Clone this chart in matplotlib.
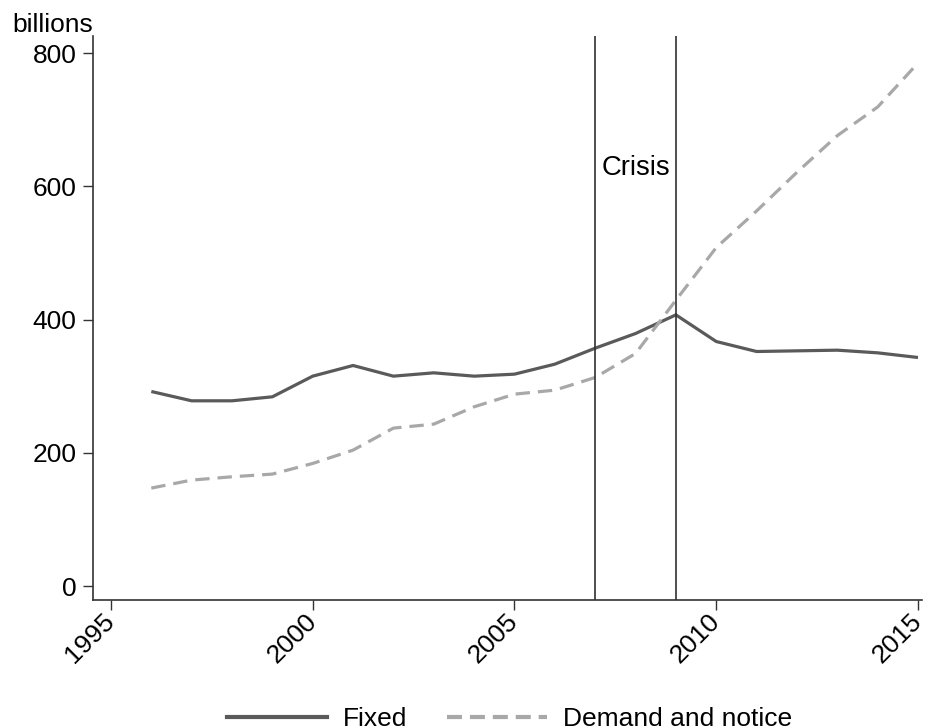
import matplotlib
matplotlib.use('Agg')
import matplotlib.pyplot as plt
from matplotlib.lines import Line2D

# --- Données (milliards) ---
years = [1996, 1997, 1998, 1999, 2000, 2001, 2002, 2003, 2004, 2005,
         2006, 2007, 2008, 2009, 2010, 2011, 2012, 2013, 2014, 2015]
fixed = [292, 278, 278, 284, 315, 331, 315, 320, 315, 318,
         333, 357, 379, 407, 367, 352, 353, 354, 350, 343]
demand_notice = [147, 159, 164, 168, 184, 204, 237, 243, 269, 288,
                 294, 313, 349, 429, 508, 563, 621, 676, 719, 785]
crisis_years = [2007, 2009]
x_ticks = [1995, 2000, 2005, 2010, 2015]
y_ticks = [0, 200, 400, 600, 800]

plt.rcParams['font.family'] = ['Liberation Sans', 'DejaVu Sans']
FS = 19

fig = plt.figure(figsize=(9.25, 7.28), dpi=100)
ax = fig.add_axes([0.1005, 0.1758, 0.8963, 0.7747])

ax.plot(years, fixed, color='#5a5a5a', linewidth=2.3, solid_capstyle='butt')
ax.plot(years, demand_notice, color='#a8a8a8', linewidth=2.3,
        dashes=(4.5, 2.5))

for yr in crisis_years:
    ax.axvline(yr, color='#303030', linewidth=1.2)

ax.text(2008, 627, 'Crisis', ha='center', va='center', fontsize=19.8,
        color='black')

ax.set_xlim(1994.554, 2015.1)
ax.set_ylim(-21, 825.5)
ax.set_xticks(x_ticks)
ax.set_yticks(y_ticks)
ax.set_xticklabels([str(t) for t in x_ticks], rotation=45, ha='right',
                   va='center', rotation_mode='anchor', fontsize=FS)
ax.set_yticklabels([str(t) for t in y_ticks], fontsize=FS)
ax.tick_params(axis='both', length=7, width=1, color='#333333')
ax.tick_params(axis='x', pad=5.5)
ax.tick_params(axis='y', pad=5)

for side in ['top', 'right']:
    ax.spines[side].set_visible(False)
for side in ['left', 'bottom']:
    ax.spines[side].set_color('#333333')
    ax.spines[side].set_linewidth(1.2)

fig.text(0.013, 0.965, 'billions', ha='left', va='center', fontsize=FS)

handles = [
    Line2D([], [], color='#5a5a5a', linewidth=3),
    Line2D([], [], color='#a8a8a8', linewidth=3, dashes=(3.6, 1.9)),
]
fig.legend(handles, ['Fixed', 'Demand and notice'], loc='center',
           bbox_to_anchor=(0.551, 0.0125), ncol=2, frameon=False,
           fontsize=FS, handlelength=3.8, columnspacing=1.5,
           handletextpad=0.6, borderpad=0, borderaxespad=0)

plt.savefig('out.png', dpi=100)
